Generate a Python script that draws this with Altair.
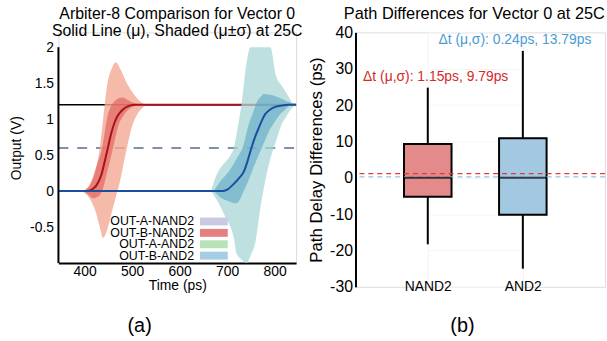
import altair as alt
import pandas as pd

FONT = "Liberation Sans"

# ---------------- panel (a) data ----------------
title_a = ["Arbiter-8 Comparison for Vector 0", "Solid Line (μ), Shaded (μ±σ) at 25C"]
time_ticks = [400, 500, 600, 700, 800]
volt_ticks = [-0.5, 0, 0.5, 1, 1.5, 2]
volt_axis_span = [-1, 2]

ref_t = [345, 845]
ref_high = [1.2, 1.2]
ref_mid = [0.6, 0.6]

red_mean_t = [345, 405, 415, 425, 435, 442, 449, 456, 463, 470, 480, 492, 505, 520, 845]
red_mean_v = [0, 0, 0.02, 0.08, 0.22, 0.4, 0.6, 0.8, 0.95, 1.05, 1.13, 1.18, 1.2, 1.2, 1.2]

red_outer_t = [393, 408, 424, 432, 439, 447, 457, 466, 475, 489, 500, 512, 522, 532]
red_outer_hi = [0, 0.05, 0.3, 0.6, 1.0, 1.45, 1.7, 1.79, 1.7, 1.5, 1.38, 1.28, 1.22, 1.2]
red_outer_lo = [0, -0.08, -0.3, -0.5, -0.65, -0.55, -0.3, -0.08, 0.15, 0.6, 0.9, 1.08, 1.16, 1.2]

red_inner_t = [397, 410, 418, 425, 437, 447, 457, 465, 472, 480, 490, 505, 520]
red_inner_hi = [0, 0.08, 0.2, 0.35, 0.6, 1.0, 1.2, 1.26, 1.29, 1.3, 1.27, 1.22, 1.2]
red_inner_lo = [0, -0.06, -0.1, -0.09, 0, 0.25, 0.52, 0.75, 0.93, 1.03, 1.12, 1.18, 1.2]

blue_mean_t = [345, 690, 700, 714, 725, 735, 743, 751, 758, 766, 773, 780, 790, 801, 815, 830, 845]
blue_mean_v = [0, 0, 0.02, 0.1, 0.18, 0.27, 0.42, 0.6, 0.74, 0.87, 0.98, 1.07, 1.13, 1.17, 1.19, 1.2, 1.2]

blue_outer_t = [666, 678, 687, 697, 707, 714, 720, 730, 741, 749, 760, 770, 780, 791, 803, 814, 824, 832, 839, 845]
blue_outer_hi = [0, 0.23, 0.33, 0.41, 0.5, 0.6, 0.8, 1.2, 1.79, 2.0, 2.0, 2.0, 2.0, 2.0, 1.6, 1.47, 1.37, 1.28, 1.21, 1.2]
blue_outer_lo = [0, -0.12, -0.23, -0.37, -0.5, -0.65, -0.87, -0.95, -1.0, -0.9, -0.69, -0.23, 0.14, 0.45, 0.7, 0.92, 1.03, 1.12, 1.17, 1.2]

blue_inner_t = [672, 686, 703, 720, 735, 745, 755, 760, 772, 776, 791, 797, 812, 822, 832, 845]
blue_inner_hi = [0, 0.14, 0.27, 0.45, 0.65, 0.92, 1.1, 1.2, 1.32, 1.35, 1.34, 1.33, 1.29, 1.26, 1.23, 1.2]
blue_inner_lo = [0, -0.09, -0.14, -0.17, 0, 0.15, 0.32, 0.4, 0.59, 0.65, 0.87, 0.93, 1.07, 1.13, 1.19, 1.2]

legend_labels = ["OUT-A-NAND2", "OUT-B-NAND2", "OUT-A-AND2", "OUT-B-AND2"]
legend_colors = ["#cbc8e3", "#e58080", "#b8e3b8", "#a7cde4"]

# ---------------- panel (b) data ----------------
title_b = "Path Differences for Vector 0 at 25C"
cats = ["NAND2", "AND2"]
whisk_lo = [-18.3, -25.0]
q1 = [-5.2, -10.2]
med = [0.0, 0.0]
q3 = [9.3, 10.9]
whisk_hi = [24.8, 34.9]
delta_mean = [1.15, 0.24]
delta_std = [9.79, 13.79]
path_ticks = [-30, -20, -10, 0, 10, 20, 30, 40]
box_colors = ["#e38a8a", "#a3c9e2"]
mean_colors = ["#e23a3a", "#93c2e3"]
text_colors = ["#d42a2a", "#4a9ad4"]

# ---------------- panel (a) ----------------
xscale = alt.Scale(domain=[345, 845], nice=False, zero=False)
yscale = alt.Scale(domain=[-1, 2.206], nice=False, zero=False)

axis_common = dict(ticks=False, grid=False, domainColor="black", domainWidth=2,
                   labelFontSize=14, titleFontSize=14, titleFontWeight="normal",
                   labelColor="black", titleColor="black", labelFont=FONT, titleFont=FONT)
xaxis = alt.Axis(values=time_ticks, title="Time (ps)", labelPadding=2, titlePadding=0, **axis_common)
yaxis = alt.Axis(values=volt_ticks, title="Output (V)", labelExpr="'' + datum.value", domain=False,
                 labelPadding=5, titlePadding=6, **axis_common)


def XT():
    return alt.X("t:Q", scale=xscale, axis=xaxis)


def YV(field):
    return alt.Y(field, scale=yscale, axis=yaxis)


def line_df(t, v):
    return pd.DataFrame({"t": t, "v": v})


def band_df(t, lo, hi):
    return pd.DataFrame({"t": t, "lo": lo, "hi": hi})


ref_line = alt.Chart(line_df(ref_t, ref_high)).mark_line(color="black", strokeWidth=1.5).encode(
    x=XT(), y=YV("v:Q"))
mid_line = alt.Chart(line_df(ref_t, ref_mid)).mark_line(color="#8090a6", strokeWidth=2, strokeDash=[10, 9]).encode(
    x=XT(), y=YV("v:Q"))
y_axis_line = alt.Chart(pd.DataFrame({"v0": [volt_axis_span[0]], "v1": [volt_axis_span[1]]})).mark_rule(
    color="black", strokeWidth=2).encode(x=alt.value(0), y=YV("v0:Q"), y2="v1:Q")


def band(t, lo, hi, color, op):
    return alt.Chart(band_df(t, lo, hi)).mark_area(interpolate="monotone", clip=True, color=color, opacity=op).encode(
        x=XT(), y=YV("lo:Q"), y2="hi:Q")


def mean_line(t, v, color):
    return alt.Chart(line_df(t, v)).mark_line(interpolate="monotone", color=color, strokeWidth=2).encode(
        x=XT(), y=YV("v:Q"))


def text_at(txt, x, y, size, color="black", align="center"):
    return alt.Chart(pd.DataFrame({"lab": [txt]})).mark_text(
        fontSize=size, font=FONT, color=color, align=align, baseline="middle").encode(
        text="lab:N", x=alt.value(x), y=alt.value(y))


# custom legend: label text right-aligned, colour swatch to its right
legend_layers = []
for i, (lab, col) in enumerate(zip(legend_labels, legend_colors)):
    yc = 191 + 11.5 * i
    legend_layers.append(text_at(lab, 137, yc, 12.5, align="right"))
    legend_layers.append(alt.Chart(pd.DataFrame({"lab": [lab]})).mark_rect(color=col).encode(
        x=alt.value(143), x2=alt.value(171), y=alt.value(yc - 4), y2=alt.value(yc + 4)))

left = alt.layer(
    ref_line, mid_line,
    band(red_outer_t, red_outer_lo, red_outer_hi, "#f2a994", 0.8),
    band(red_inner_t, red_inner_lo, red_inner_hi, "#e0605a", 0.65),
    mean_line(red_mean_t, red_mean_v, "#a8101a"),
    band(blue_outer_t, blue_outer_lo, blue_outer_hi, "#a8d5d7", 0.75),
    band(blue_inner_t, blue_inner_lo, blue_inner_hi, "#5aa5c4", 0.6),
    mean_line(blue_mean_t, blue_mean_v, "#1a4fa0"),
    y_axis_line,
    *legend_layers,
    text_at(title_a[0], 120, -18, 16), text_at(title_a[1], 120, -1, 16),
    text_at("(a)", 82, 297, 20),
).properties(width=240, height=233)

# ---------------- panel (b) ----------------
box_df = pd.DataFrame({"cat": cats, "wlo": whisk_lo, "q1": q1, "med": med, "q3": q3, "whi": whisk_hi,
                       "mean": delta_mean, "std": delta_std})
box_df["label"] = [f"Δt (μ,σ): {m:.2f}ps, {s:.2f}ps" for m, s in zip(delta_mean, delta_std)]

pscale = alt.Scale(domain=[-30, 40], nice=False, zero=False)
cscale = alt.Scale(type="point", domain=cats, range=[73, 169], padding=0)

bx_axis = alt.Axis(title=None, labelAngle=0, ticks=False, domain=False, grid=True, gridColor="#f3f3f3",
                   labelFontSize=14, labelFont=FONT, labelColor="black", labelBaseline="middle", labelPadding=0)
by_axis = alt.Axis(values=path_ticks, title="Path Delay Differences (ps)", labelExpr="'' + datum.value",
                   ticks=False, grid=True, gridColor="#f5f5f5", domainColor="black", domainWidth=2,
                   labelFontSize=16, titleFontSize=17, titleFontWeight="normal", labelColor="black",
                   titleColor="black", labelFont=FONT, titleFont=FONT, labelPadding=3, titlePadding=4)


def XC():
    return alt.X("cat:N", scale=cscale, axis=bx_axis, sort=cats)


def YP(field):
    return alt.Y(field, scale=pscale, axis=by_axis)


base = alt.Chart(box_df)
whiskers = base.mark_rule(color="black", strokeWidth=2).encode(x=XC(), y=YP("wlo:Q"), y2="whi:Q")
boxes = base.mark_bar(size=48, stroke="black", strokeWidth=2, opacity=1).encode(
    x=XC(), y=YP("q1:Q"), y2="q3:Q",
    fill=alt.Fill("cat:N", scale=alt.Scale(domain=cats, range=box_colors), legend=None))
mean_rules = base.mark_rule(strokeDash=[5, 4], strokeWidth=1.3).encode(
    y=YP("mean:Q"),
    color=alt.Color("cat:N", scale=alt.Scale(domain=cats, range=mean_colors), legend=None))
medians = base.mark_tick(size=48, thickness=2, color="black").encode(x=XC(), y=YP("med:Q"))

texts = []
for c, col, dx in zip(cats, text_colors, [8, -8]):
    texts.append(base.transform_filter(alt.datum.cat == c).mark_text(
        fontSize=14, font=FONT, color=col, dy=-11, dx=dx).encode(
        x=XC(), y=YP("whi:Q"), text="label:N"))

right = alt.layer(
    whiskers, boxes, mean_rules, medians, *texts,
    text_at(title_b, 120, -18, 16.5),
    text_at("(b)", 108, 297, 20),
).resolve_scale(color="independent", fill="independent").properties(width=252, height=257)

chart = alt.hconcat(left, right, spacing=3).properties(
    padding={"left": 9, "top": 4, "right": 0, "bottom": 0}
).configure_view(strokeWidth=0).configure(font=FONT)

chart.save("out.html", embed_options={"renderer": "svg", "actions": False})
